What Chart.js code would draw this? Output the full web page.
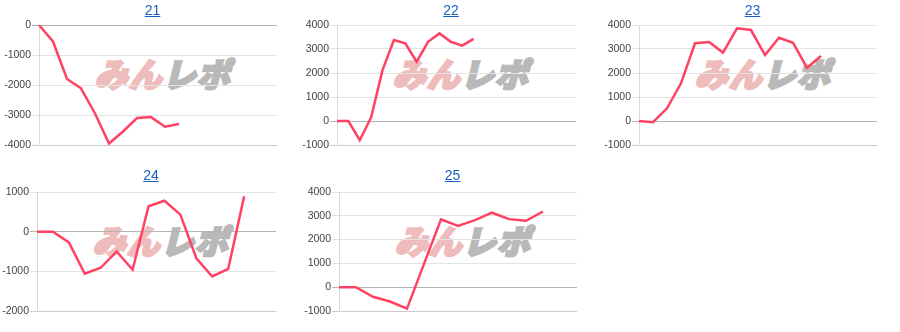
<!DOCTYPE html>
<html>
<head>
<meta charset="utf-8">
<script src="https://cdn.jsdelivr.net/npm/chart.js@4"></script>
<style>
  html, body { margin: 0; padding: 0; background: #fff; }
  body { width: 900px; height: 332px; position: relative; overflow: hidden; font-family: Arial, "Liberation Sans", sans-serif; }
  .box { position: absolute; }
  .ttl { position: absolute; font-size: 14px; color: #1a5fc8; text-decoration: underline; transform: translateX(-50%); white-space: nowrap; }
  .wm { position: absolute; font-family: "Noto Sans CJK JP", sans-serif; font-weight: 900; font-size: 33px; line-height: 33px; letter-spacing: 1px; white-space: nowrap; pointer-events: none; transform: skewX(-14deg); }
  .wm .a { color: #efbcbc; -webkit-text-stroke: 2.5px #efbcbc; }
  .wm .b { color: #b9b9b9; -webkit-text-stroke: 2.5px #b9b9b9; }
</style>
</head>
<body>
<script>
// ---- data ----
const titles = ['21', '22', '23', '24', '25'];

const labels21 = ['1','2','3','4','5','6','7','8','9','10','11','12','13','14','15','16','17','18'];
const values21 = [0, -550, -1800, -2110, -2950, -3950, -3550, -3100, -3070, -3390, -3300, null, null, null, null, null, null, null];

const labels22 = ['1','2','3','4','5','6','7','8','9','10','11','12','13','14','15','16','17','18','19','20','21','22'];
const values22 = [0, 0, -800, 150, 2120, 3370, 3240, 2470, 3300, 3650, 3300, 3140, 3420, null, null, null, null, null, null, null, null, null];

const labels23 = ['1','2','3','4','5','6','7','8','9','10','11','12','13','14','15','16','17','18'];
const values23 = [0, -50, 530, 1570, 3240, 3290, 2850, 3860, 3790, 2750, 3470, 3260, 2220, 2710, null, null, null, null];

const labels24 = ['1','2','3','4','5','6','7','8','9','10','11','12','13','14','15','16'];
const values24 = [0, 0, -270, -1060, -910, -500, -960, 640, 780, 430, -670, -1130, -940, 890, null, null];

const labels25 = ['1','2','3','4','5','6','7','8','9','10','11','12','13','14','15'];
const values25 = [0, 0, -400, -600, -900, 980, 2850, 2570, 2820, 3130, 2860, 2790, 3180, null, null];

const yMin = [-4000, -1000, -1000, -2000, -1000];
const yMax = [0, 4000, 4000, 1000, 4000];
const yStep = [1000, 1000, 1000, 1000, 1000];

// ---- layout (plot area boxes: left, top, right, bottom) ----
const plots = [
  [39, 25, 277, 145],
  [337, 25, 576, 145],
  [639, 25, 877, 145],
  [37, 192, 276, 311],
  [339, 192, 577, 311]
];
const titleY = [2, 2, 2, 167, 167];

const allLabels = [labels21, labels22, labels23, labels24, labels25];
const allValues = [values21, values22, values23, values24, values25];

const AXIS_W = 39;
const PAD = 8;

plots.forEach((p, i) => {
  const [pl, pt, pr, pb] = p;
  const boxLeft = pl - AXIS_W;
  const boxTop = pt - PAD;
  const w = pr - boxLeft;
  const h = (pb - pt) + PAD * 2;

  // watermark (behind the chart)
  const wm = document.createElement('div');
  wm.className = 'wm';
  wm.style.left = (pl + 59) + 'px';
  wm.style.top = (pt + 32) + 'px';
  wm.innerHTML = '<span class="a">みん</span><span class="b">レポ</span>';
  document.body.appendChild(wm);

  const box = document.createElement('div');
  box.className = 'box';
  box.style.left = boxLeft + 'px';
  box.style.top = boxTop + 'px';
  box.style.width = w + 'px';
  box.style.height = h + 'px';
  const cv = document.createElement('canvas');
  box.appendChild(cv);
  document.body.appendChild(box);

  const t = document.createElement('a');
  t.className = 'ttl';
  t.href = '#';
  t.textContent = titles[i];
  t.style.left = ((pl + pr) / 2 - 5.5) + 'px';
  t.style.top = titleY[i] + 'px';
  document.body.appendChild(t);

  const minV = yMin[i];
  new Chart(cv, {
    type: 'line',
    data: {
      labels: allLabels[i],
      datasets: [{
        data: allValues[i],
        borderColor: '#ff4263',
        backgroundColor: '#ff4263',
        borderWidth: 2.5,
        pointRadius: 0,
        pointHoverRadius: 0,
        tension: 0,
        fill: false
      }]
    },
    options: {
      responsive: true,
      maintainAspectRatio: false,
      animation: false,
      events: [],
      layout: { padding: { top: PAD, bottom: PAD, left: 0, right: 0 } },
      plugins: { legend: { display: false }, tooltip: { enabled: false }, title: { display: false } },
      scales: {
        x: { display: false, offset: false },
        y: {
          min: minV,
          max: yMax[i],
          afterFit: (s) => { s.width = AXIS_W; },
          border: { display: true, color: '#d9d9d9', width: 1 },
          grid: {
            drawTicks: true,
            tickLength: 7,
            color: (ctx) => {
              const v = ctx.tick ? ctx.tick.value : null;
              if (v === 0) return '#b5b5b5';
              if (v === minV) return '#cccccc';
              return '#e3e3e3';
            },
            lineWidth: 1
          },
          ticks: {
            stepSize: yStep[i],
            padding: 1,
            color: '#444444',
            font: { family: 'Arial, "Liberation Sans", sans-serif', size: 10.5 },
            callback: (v) => String(v)
          }
        }
      }
    }
  });
});
</script>
</body>
</html>
